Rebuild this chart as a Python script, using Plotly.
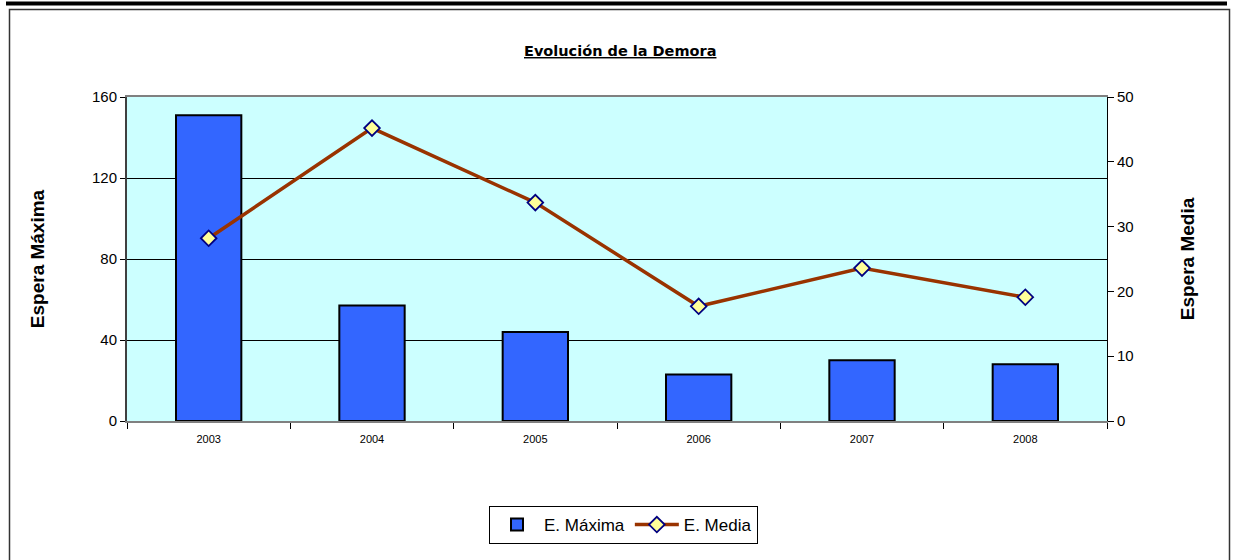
import plotly.graph_objects as go

years = ["2003", "2004", "2005", "2006", "2007", "2008"]
espera_maxima = [151, 57, 44, 23, 30, 28]
espera_media = [28.2, 45.2, 33.7, 17.7, 23.6, 19.1]
left_ticks = [0, 40, 80, 120, 160]
right_ticks = [0, 10, 20, 30, 40, 50]

W, H = 1236, 560
L, R, T, B = 127, 1107, 97, 421
PW, PH = R - L, B - T


def px(x):
    return (x - L) / PW


def py(y):
    return (B - y) / PH


FONT = "Liberation Sans, Arial, sans-serif"

fig = go.Figure()
fig.add_trace(go.Bar(
    x=years, y=espera_maxima, name="E. Máxima",
    marker=dict(color="#3366FF", line=dict(color="black", width=2)),
    yaxis="y",
))
fig.add_trace(go.Scatter(
    x=years, y=espera_media, name="E. Media", mode="lines+markers",
    line=dict(color="#993300", width=3.5),
    marker=dict(symbol="diamond", size=12, color="#FFFF99",
                line=dict(color="#000080", width=1.8)),
    yaxis="y2",
))

shapes = [
    # outer chart border
    dict(type="rect", xref="paper", yref="paper",
         x0=px(9.5), x1=px(1229.5), y0=py(9.5), y1=py(565),
         line=dict(color="#333333", width=1.5), fillcolor="rgba(0,0,0,0)", layer="below"),
    # top thick bar
    dict(type="rect", xref="paper", yref="paper",
         x0=px(6), x1=px(1227), y0=py(1.5), y1=py(5.5),
         line=dict(width=0), fillcolor="black"),
]

fig.update_layout(
    width=W, height=H,
    margin=dict(l=L, r=W - R, t=T, b=H - B),
    paper_bgcolor="white",
    plot_bgcolor="#CCFFFF",
    bargap=0.6,
    showlegend=True,
    legend=dict(orientation="h", x=px(489), y=py(506), xanchor="left", yanchor="top",
                bordercolor="black", borderwidth=1, bgcolor="white",
                font=dict(family=FONT, size=17, color="black"),
                itemwidth=44, tracegroupgap=0),
    xaxis=dict(type="category", categoryorder="array", categoryarray=years,
               showline=True, linecolor="#808080", linewidth=2, mirror=True,
               ticks="outside", tickson="boundaries", ticklen=6, tickcolor="black",
               ticklabelstandoff=7,
               tickfont=dict(family=FONT, size=11, color="black"),
               showgrid=False, zeroline=False, fixedrange=True),
    yaxis=dict(range=[0, 160], tickvals=left_ticks, ticks="outside", ticklen=5,
               tickcolor="black", showline=True, linecolor="#404040", linewidth=2,
               showgrid=True, gridcolor="black", gridwidth=1, zeroline=False,
               tickfont=dict(family=FONT, size=15, color="black"),
               title=dict(text="<b>Espera Máxima</b>",
                          font=dict(family=FONT, size=19, color="black"), standoff=42)),
    yaxis2=dict(range=[0, 50], tickvals=right_ticks, overlaying="y", side="right",
                ticks="outside", ticklen=6, tickcolor="black",
                showline=True, linecolor="black", linewidth=1,
                showgrid=False, zeroline=False,
                tickfont=dict(family=FONT, size=15, color="black"),
                title=dict(text="<b>Espera Media</b>",
                           font=dict(family=FONT, size=19, color="black"), standoff=48)),
    shapes=shapes,
    annotations=[dict(text="<b><u>Evolución de la Demora</u></b>", xref="paper", yref="paper",
                      x=px(620), y=py(51), xanchor="center", yanchor="middle",
                      showarrow=False,
                      font=dict(family="DejaVu Sans, sans-serif", size=14.5, color="black"))],
)

fig.write_html("out.html", config={"displayModeBar": False},
               post_script="document.body.style.margin='0';document.body.style.overflow='hidden';")
